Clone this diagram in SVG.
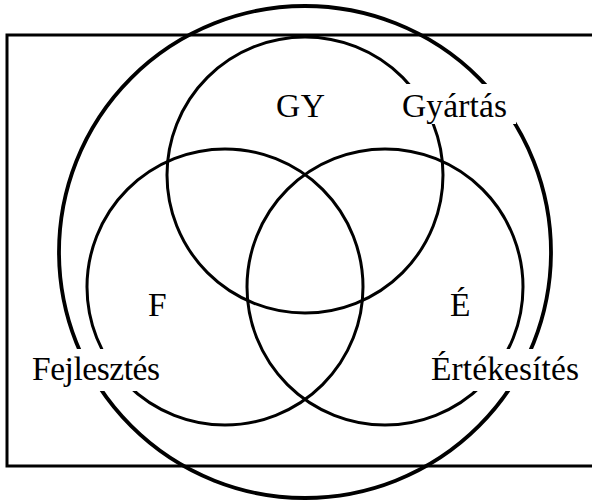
<svg xmlns="http://www.w3.org/2000/svg" width="592" height="501" viewBox="0 0 592 501">
  <style>
    .ln { fill: none; stroke: #000; stroke-width: 3; }
    .big { fill: none; stroke: #000; stroke-width: 3.8; }
    .gap { fill: #fff; stroke: none; }
    .lbl { font-family: "Liberation Serif", "Times New Roman", serif; font-size: 33.5px; fill: #000; }
  </style>
  <rect width="592" height="501" fill="#fff"/>
  <g id="keret">
    <path class="ln" d="M594 35 H7 V466 H594"/>
  </g>
  <g id="vallalat">
    <circle class="big" cx="305" cy="252" r="246"/>
  </g>
  <g id="gyartas">
    <circle class="ln" cx="305" cy="175" r="138"/>
  </g>
  <g id="fejlesztes">
    <circle class="ln" cx="225" cy="287" r="138"/>
  </g>
  <g id="ertekesites">
    <circle class="ln" cx="385" cy="287" r="138"/>
  </g>
  <g id="cimkek">
    <rect class="gap" x="398" y="84" width="118" height="40"/>
    <rect class="gap" x="24" y="349" width="142" height="42"/>
    <rect class="gap" x="425" y="349" width="160" height="42"/>
    <text class="lbl" x="276" y="117" textLength="49" lengthAdjust="spacing">GY</text>
    <text class="lbl" x="402" y="117" textLength="105" lengthAdjust="spacing">Gyártás</text>
    <text class="lbl" x="148" y="316">F</text>
    <text class="lbl" x="450" y="316">É</text>
    <text class="lbl" x="32" y="380" textLength="128" lengthAdjust="spacing">Fejlesztés</text>
    <text class="lbl" x="431" y="380" textLength="148" lengthAdjust="spacing">Értékesítés</text>
  </g>
</svg>
